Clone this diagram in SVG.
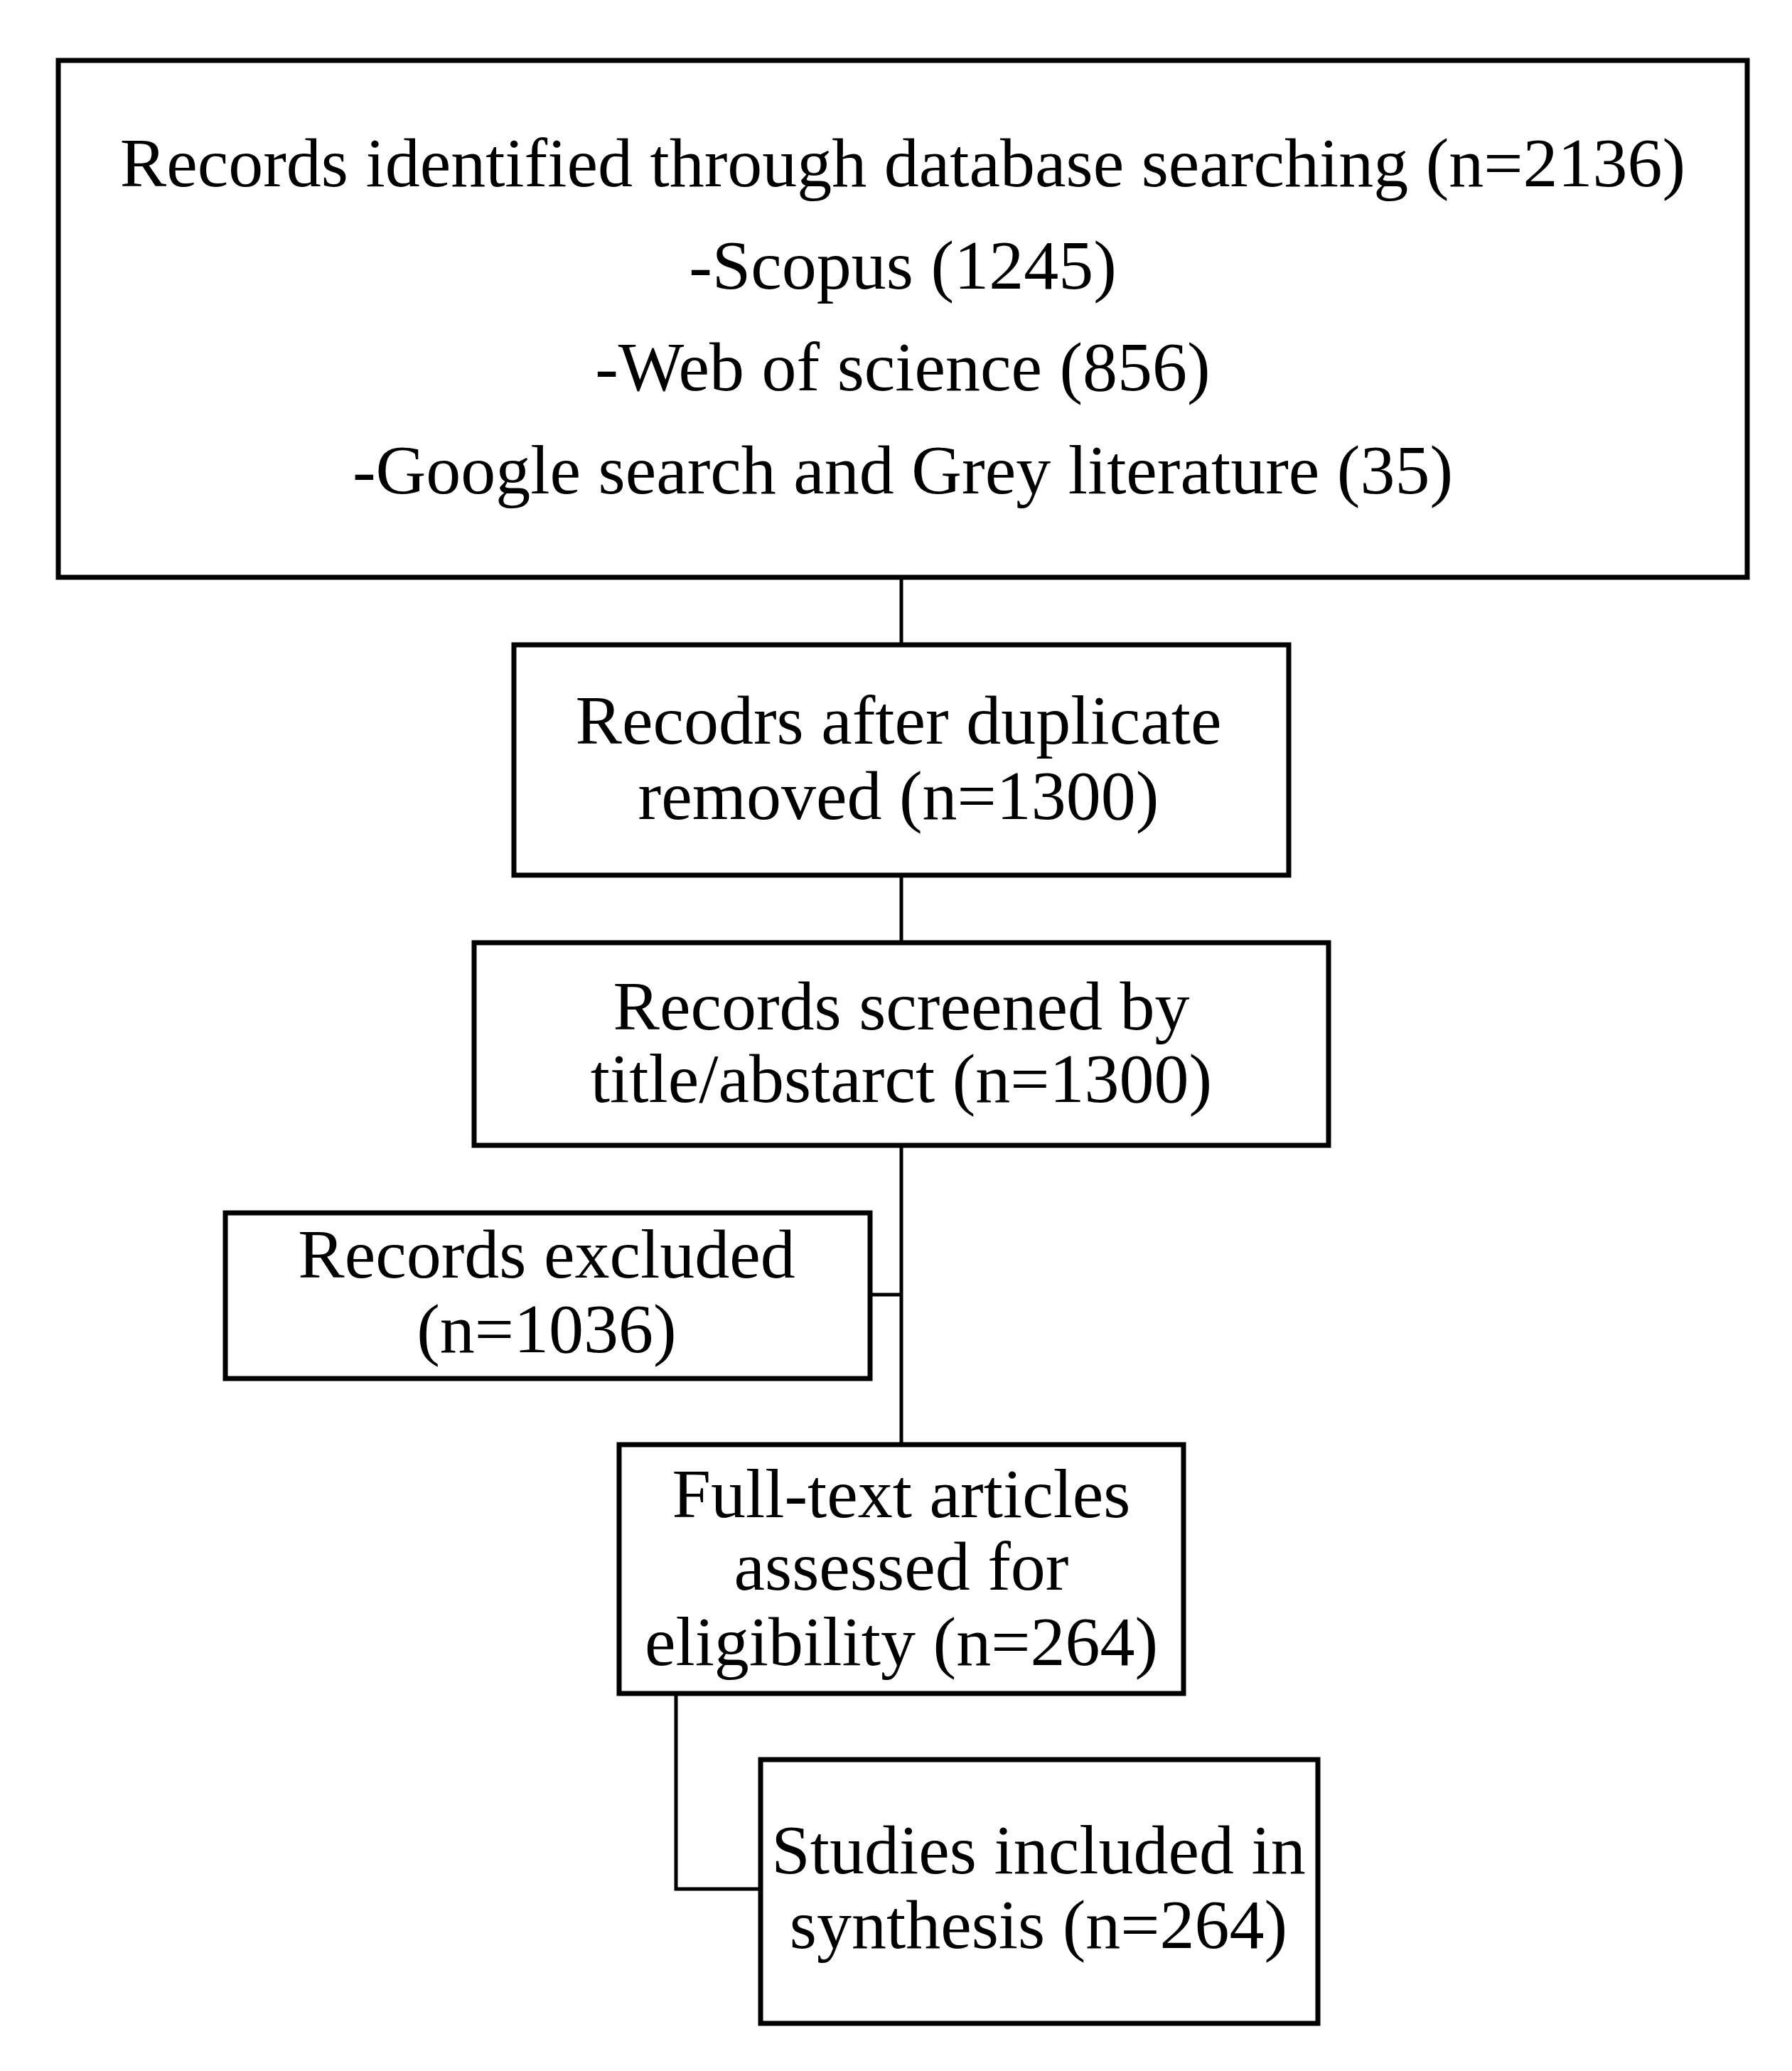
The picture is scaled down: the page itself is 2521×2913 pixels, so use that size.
<svg xmlns="http://www.w3.org/2000/svg" width="2521" height="2913" viewBox="0 0 2521 2913">
<style>
rect{fill:#fff;stroke:#000;stroke-width:7}
line,polyline{stroke:#000;stroke-width:5;fill:none}
text{font-family:"Liberation Serif","Times New Roman",serif;font-size:98px;text-anchor:middle;fill:#000}
</style>
<rect x="0" y="0" width="2521" height="2913" style="stroke:none"/>
<g id="connectors">
<line x1="1268" y1="812" x2="1268" y2="907"/>
<line x1="1268" y1="1231" x2="1268" y2="1326"/>
<line x1="1268" y1="1611" x2="1268" y2="2032"/>
<line x1="1224" y1="1821" x2="1268" y2="1821"/>
<polyline points="951,2382 951,2657 1070,2657"/>
</g>
<g id="n1"><rect x="82" y="85" width="2376" height="727"/>
<text x="1270" y="262">Records identified through database searching (n=2136)</text>
<text x="1270" y="406">-Scopus (1245)</text>
<text x="1270" y="549">-Web of science (856)</text>
<text x="1270" y="694">-Google search and Grey literature (35)</text></g>
<g id="n2"><rect x="723" y="907" width="1090" height="324"/>
<text x="1264" y="1046">Recodrs after duplicate</text>
<text x="1264" y="1152">removed (n=1300)</text></g>
<g id="n3"><rect x="667" y="1326" width="1202" height="285"/>
<text x="1268" y="1448">Records screened by</text>
<text x="1268" y="1550">title/abstarct (n=1300)</text></g>
<g id="n4"><rect x="317" y="1706" width="907" height="233"/>
<text x="769" y="1797">Records excluded</text>
<text x="769" y="1902">(n=1036)</text></g>
<g id="n5"><rect x="871" y="2032" width="794" height="350"/>
<text x="1268" y="2134">Full-text articles</text>
<text x="1268" y="2236">assessed for</text>
<text x="1268" y="2342">eligibility (n=264)</text></g>
<g id="n6"><rect x="1070" y="2475" width="784" height="371"/>
<text x="1461" y="2635">Studies included in</text>
<text x="1461" y="2740">synthesis (n=264)</text></g>
</svg>
